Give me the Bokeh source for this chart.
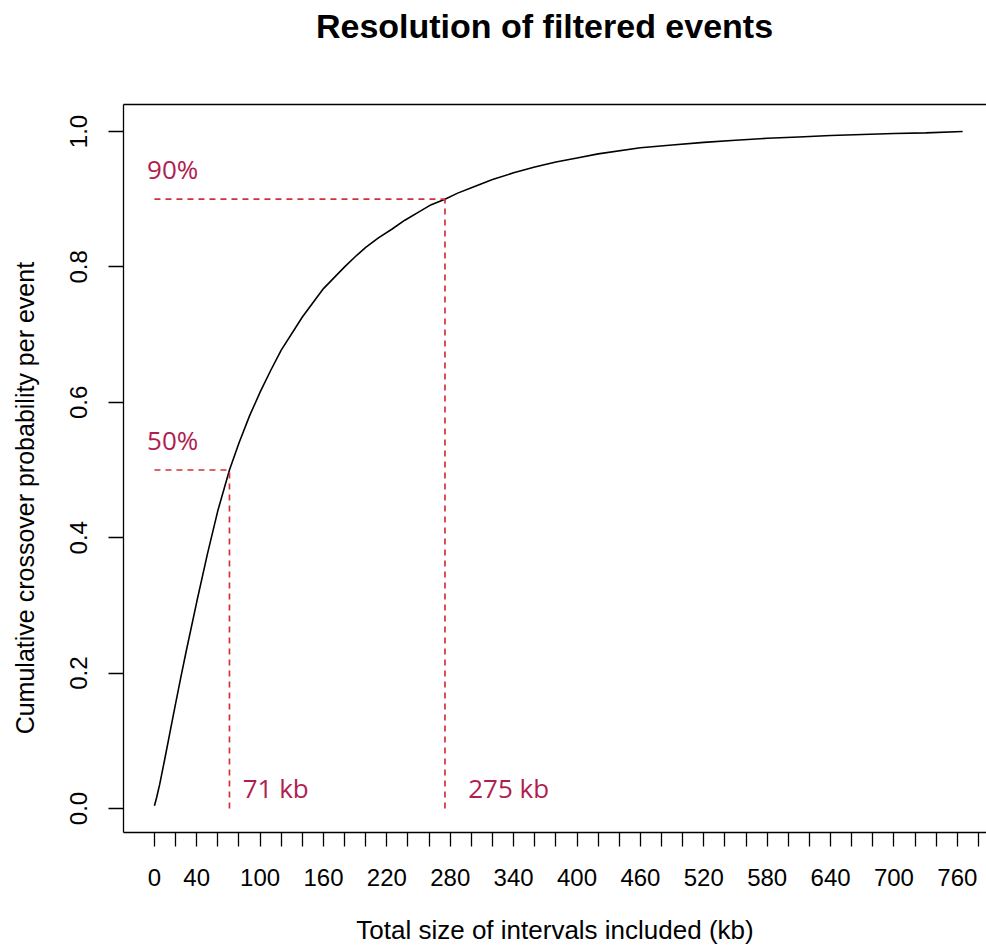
import math
from bokeh.plotting import figure
from bokeh.layouts import column, row
from bokeh.models import Range1d, FixedTicker, LinearAxis, CustomJSTickFormatter, PrintfTickFormatter
from bokeh.core.properties import value
from bokeh.embed import file_html
from bokeh.resources import INLINE

# ---- data ----
size_kb = [0, 2, 5, 10, 15, 20, 25, 30, 40, 50, 60, 71, 80, 90, 100, 110, 120, 140,
           160, 180, 190, 200, 212, 225, 237, 250, 262, 275, 287, 300, 320, 340, 360, 380,
           400, 420, 460, 490, 520, 550, 580, 610, 640, 670, 700, 730, 765]
cum_prob = [0.004, 0.016, 0.036, 0.075, 0.115, 0.155, 0.194, 0.232, 0.305, 0.375, 0.44, 0.5,
            0.54, 0.58, 0.615, 0.647, 0.677, 0.726, 0.768, 0.8, 0.815, 0.829, 0.843, 0.856,
            0.869, 0.881, 0.892, 0.9, 0.909, 0.917, 0.929, 0.939, 0.9475, 0.955,
            0.961, 0.967, 0.976, 0.98, 0.984, 0.987, 0.99, 0.992, 0.994, 0.9955, 0.997, 0.998, 1.0]

thresholds = [0.5, 0.9]
threshold_sizes = [71, 275]
pct_labels = ["50%", "90%"]
kb_labels = ["71 kb", "275 kb"]

x_ticks = list(range(0, 781, 20))
x_labelled = [0, 40, 100, 160, 220, 280, 340, 400, 460, 520, 580, 640, 700, 760]
y_ticks = [0.0, 0.2, 0.4, 0.6, 0.8, 1.0]

title_text = "Resolution of filtered events"
x_title = "Total size of intervals included (kb)"
y_title = "Cumulative crossover probability per event"

FONT = "Liberation Sans"
RED_LINE = "#D2303A"
RED_TEXT = "#B01D4F"


def blank_fig(w, h):
    f = figure(width=w, height=h, output_backend="svg", toolbar_location=None,
               x_range=Range1d(0, w), y_range=Range1d(0, h),
               x_axis_type=None, y_axis_type=None,
               min_border_left=0, min_border_right=0, min_border_top=0, min_border_bottom=0)
    f.outline_line_color = None
    f.xgrid.visible = False
    f.ygrid.visible = False
    f.background_fill_color = "white"
    f.border_fill_color = "white"
    return f


# ---- title strip ----
TITLE_H = 90
title_fig = blank_fig(986, TITLE_H)
title_fig.text(x=[544], y=[TITLE_H - 25], text=[title_text], text_font=value(FONT),
               text_font_size=value("34px"), text_font_style="bold", text_color="black",
               text_align="center", text_baseline="middle")

# ---- y title strip ----
MAIN_H = 950 - TITLE_H
YLAB_W = 50
ylab_fig = blank_fig(YLAB_W, MAIN_H)
ylab_fig.text(x=[24], y=[MAIN_H - (555 - TITLE_H)], text=[y_title], angle=math.pi / 2,
              text_font=value(FONT), text_font_size=value("25px"), text_color="black",
              text_align="center", text_baseline="middle")

# ---- main plot ----
p = figure(width=986 - YLAB_W, height=MAIN_H, output_backend="svg", toolbar_location=None,
           x_range=Range1d(-29.3, 787.6), y_range=Range1d(-0.0354, 1.0399),
           x_axis_type=None, y_axis_type=None,
           min_border_left=123 - YLAB_W, min_border_right=0,
           min_border_top=104 - TITLE_H, min_border_bottom=118)
p.outline_line_color = None
p.xgrid.visible = False
p.ygrid.visible = False
p.background_fill_color = "white"
p.border_fill_color = "white"

# bottom axis
xaxis = LinearAxis(ticker=FixedTicker(ticks=x_ticks),
                   formatter=CustomJSTickFormatter(args=dict(shown=x_labelled),
                                                   code="return shown.includes(tick) ? tick.toString() : '';"),
                   axis_label=x_title)
xaxis.axis_line_color = "black"
xaxis.axis_line_width = 1.3
xaxis.major_tick_line_width = 1.3
xaxis.major_tick_in = 0
xaxis.major_tick_out = 14
xaxis.minor_tick_line_color = None
xaxis.major_label_text_font = FONT
xaxis.major_label_text_font_size = "24px"
xaxis.major_label_text_color = "black"
xaxis.major_label_standoff = 22
xaxis.axis_label_text_font = FONT
xaxis.axis_label_text_font_size = "26px"
xaxis.axis_label_text_font_style = "normal"
xaxis.axis_label_text_color = "black"
xaxis.axis_label_standoff = 26
p.add_layout(xaxis, "below")

# left axis
yaxis = LinearAxis(ticker=FixedTicker(ticks=y_ticks),
                   formatter=PrintfTickFormatter(format="%.1f"))
yaxis.axis_line_color = "black"
yaxis.axis_line_width = 1.3
yaxis.major_tick_line_width = 1.3
yaxis.major_tick_in = 0
yaxis.major_tick_out = 15
yaxis.minor_tick_line_color = None
yaxis.major_label_orientation = "vertical"
yaxis.major_label_text_font = FONT
yaxis.major_label_text_font_size = "24px"
yaxis.major_label_text_color = "black"
yaxis.major_label_standoff = 21
p.add_layout(yaxis, "left")

# top box line
topaxis = LinearAxis(ticker=FixedTicker(ticks=[]))
topaxis.axis_line_color = "black"
topaxis.axis_line_width = 1.3
topaxis.major_tick_line_color = None
topaxis.minor_tick_line_color = None
topaxis.major_tick_out = 0
topaxis.major_label_standoff = 0
topaxis.major_label_text_font_size = "0px"
p.add_layout(topaxis, "above")

# curve
p.line(size_kb, cum_prob, line_color="black", line_width=1.6)

# dashed guides
p.segment(x0=[0] * len(thresholds), y0=thresholds, x1=threshold_sizes, y1=thresholds,
          line_color=RED_LINE, line_width=1.7, line_dash="6 5")
p.segment(x0=threshold_sizes, y0=[0] * len(thresholds), x1=threshold_sizes, y1=thresholds,
          line_color=RED_LINE, line_width=1.7, line_dash="6 5")

# annotations
p.text(x=[-7] * len(thresholds), y=[t + 0.044 for t in thresholds], text=pct_labels,
       text_font=value("Open Sans"), text_font_size=value("26px"), text_color=RED_TEXT,
       text_align="left", text_baseline="alphabetic")
p.text(x=[s + dx for s, dx in zip(threshold_sizes, [12.5, 22])], y=[0.031] * len(thresholds),
       text=kb_labels, text_font=value("Open Sans"), text_font_size=value("26px"),
       text_color=RED_TEXT, text_align="left", text_baseline="alphabetic")

layout = column(title_fig, row(ylab_fig, p, spacing=0), spacing=0)

open("out.html", "w").write(file_html(layout, INLINE))
